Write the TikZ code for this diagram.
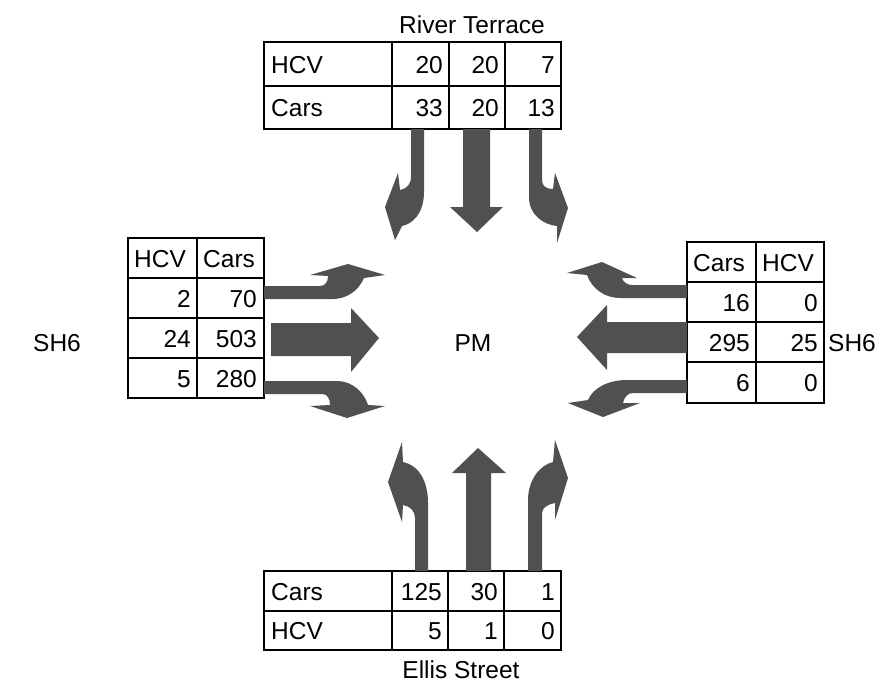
\documentclass[tikz,border=0pt]{standalone}
\usepackage{fontspec}
\setmainfont{Liberation Sans}
\definecolor{arrowgray}{RGB}{80,80,80}
\begin{document}
\begin{tikzpicture}[x=1pt,y=-1pt,
  txt/.style={inner sep=0pt,font=\fontsize{24.5}{28}\selectfont},
  lt/.style={txt,anchor=base west},
  rt/.style={txt,anchor=base east},
  ct/.style={txt,anchor=base},
  grid/.style={draw=black,line width=1.3pt},
  arr/.style={fill=arrowgray,draw=none}]
\useasboundingbox[fill=white] (0,0) rectangle (883,688);

% ---------- top table ----------
\draw[grid] (264,42) rectangle (561,129);
\draw[grid] (264,86) -- (561,86);
\draw[grid] (392,42) -- (392,129) (449,42) -- (449,129) (505,42) -- (505,129);
\node[ct] (rt) at (472,33) {River Terrace};
\node[lt] (t1) at (271,73) {HCV};
\node[rt] (t2) at (443,73) {20};
\node[rt] (t3) at (499,73) {20};
\node[rt] (t4) at (555,73) {7};
\node[lt] (t5) at (271,116.5) {Cars};
\node[rt] (t6) at (443,116.5) {33};
\node[rt] (t7) at (499,116.5) {20};
\node[rt] (t8) at (555,116.5) {13};

% ---------- bottom table ----------
\draw[grid] (264,571) rectangle (561,650);
\draw[grid] (264,611) -- (561,611);
\draw[grid] (392,571) -- (392,650) (448,571) -- (448,650) (504,571) -- (504,650);
\node[lt] (b1) at (271,600) {Cars};
\node[rt] (b2) at (442,600) {125};
\node[rt] (b3) at (498,600) {30};
\node[rt] (b4) at (555,600) {1};
\node[lt] (b5) at (271,639.5) {HCV};
\node[rt] (b6) at (442,639.5) {5};
\node[rt] (b7) at (498,639.5) {1};
\node[rt] (b8) at (555,639.5) {0};
\node[ct] (es) at (461,678) {Ellis Street};

% ---------- left table ----------
\draw[grid] (128,238) rectangle (264,398);
\draw[grid] (128,278) -- (264,278) (128,318) -- (264,318) (128,358) -- (264,358);
\draw[grid] (197,238) -- (197,398);
\node[lt] (l1) at (134,267) {HCV};
\node[lt] (l2) at (203,267) {Cars};
\node[rt] (l3) at (191,307) {2};
\node[rt] (l4) at (257,307) {70};
\node[rt] (l5) at (191,347) {24};
\node[rt] (l6) at (257,347) {503};
\node[rt] (l7) at (191,387) {5};
\node[rt] (l8) at (257,387) {280};
\node[ct] (shl) at (57,351) {SH6};

% ---------- right table ----------
\draw[grid] (687,242) rectangle (824,403);
\draw[grid] (687,282) -- (824,282) (687,322) -- (824,322) (687,362) -- (824,362);
\draw[grid] (756,242) -- (756,403);
\node[lt] (r1) at (693,271) {Cars};
\node[lt] (r2) at (762,271) {HCV};
\node[rt] (r3) at (750,311) {16};
\node[rt] (r4) at (818,311) {0};
\node[rt] (r5) at (750,351) {295};
\node[rt] (r6) at (818,351) {25};
\node[rt] (r7) at (750,391.5) {6};
\node[rt] (r8) at (818,391.5) {0};
\node[lt] (shr) at (828,351) {SH6};

\node[ct] (pm) at (473,351) {PM};

% ---------- straight arrows ----------
\fill[arr] (463,129) -- (490,129) -- (490,207) -- (503,207) -- (477,232) -- (450,207) -- (463,207) -- cycle;
\fill[arr] (466,571) -- (491,571) -- (491,473) -- (506,473) -- (478,448) -- (452,473) -- (466,473) -- cycle;
\fill[arr] (271,323) -- (351,323) -- (351,308) -- (379,338) -- (351,372) -- (351,356) -- (271,356) -- cycle;
\fill[arr] (687,322) -- (607,322) -- (607,305) -- (577,337) -- (607,370) -- (607,353) -- (687,353) -- cycle;

% ---------- curved arrows: top ----------
\fill[arr] (411,129) -- (424,129) -- (424,192) .. controls (424,214) and (412,224) .. (402,226)
  -- (395,240) -- (385,207) -- (398,173) -- (400,190) .. controls (408,188) and (411,184) .. (411,176) -- cycle;
\fill[arr] (529,129) -- (542,129) -- (542,180) .. controls (542,186) and (546,189) .. (553,189)
  -- (555,173) -- (568,208) -- (557,243) -- (557,226) .. controls (545,225) and (529,216) .. (529,197) -- cycle;

% ---------- curved arrows: left ----------
\fill[arr] (264,286) -- (320,286) .. controls (325,286) and (328,282) .. (328,276)
  -- (310,275) -- (348,264) -- (385,275) -- (364,278) .. controls (358,292) and (345,299) .. (333,299) -- (264,299) -- cycle;
\fill[arr] (264,381) -- (337,381) .. controls (352,381) and (364,392) .. (368,405)
  -- (385,406) -- (347,418) -- (310,406) -- (330,405) .. controls (330,398) and (327,394) .. (322,394) -- (264,394) -- cycle;

% ---------- curved arrows: right ----------
\fill[arr] (687,285) -- (632,285) .. controls (627,285) and (623,282) .. (622,278)
  -- (637,278) -- (602,262) -- (567,273) -- (587,275) .. controls (592,289) and (605,298) .. (620,298) -- (687,298) -- cycle;
\fill[arr] (687,380) -- (627,380) .. controls (608,380) and (593,388) .. (588,400)
  -- (568,403) -- (603,417) -- (640,403) -- (623,403) .. controls (624,397) and (628,393) .. (633,393) -- (687,393) -- cycle;

% ---------- curved arrows: bottom ----------
\fill[arr] (415,571) -- (415,518) .. controls (415,511) and (410,506) .. (403,505)
  -- (402,522) -- (388,482) -- (402,442) -- (403,462) .. controls (418,465) and (428,480) .. (428,503) -- (428,571) -- cycle;
\fill[arr] (528,571) -- (528,500) .. controls (528,480) and (540,465) .. (553,462)
  -- (555,440) -- (568,478) -- (555,520) -- (555,503) .. controls (548,504) and (542,508) .. (542,513) -- (542,571) -- cycle;
\end{tikzpicture}
\end{document}
